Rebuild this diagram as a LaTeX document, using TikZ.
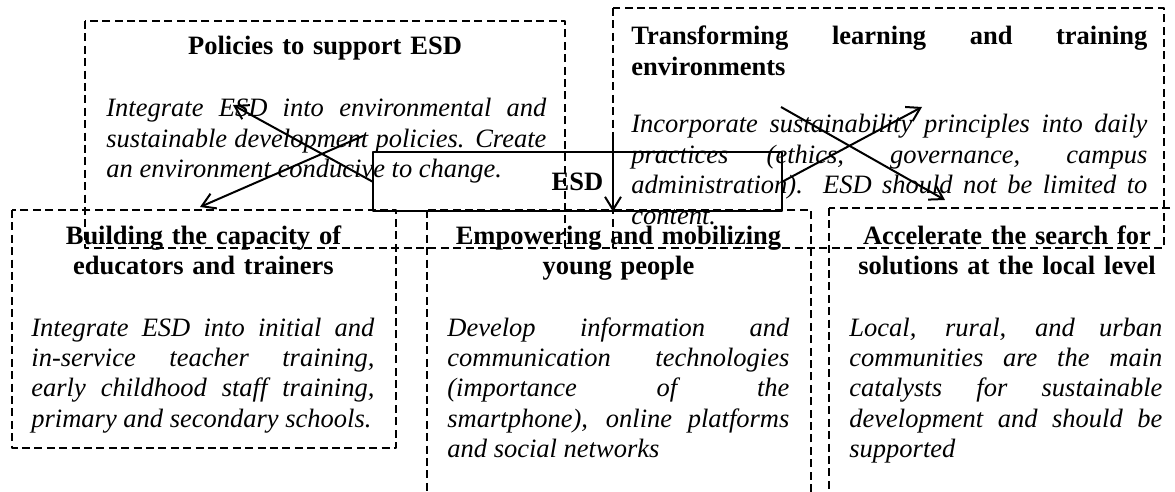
\documentclass[tikz,border=0pt]{standalone}
\usepackage{fontspec}
\setmainfont{Liberation Serif}
\usetikzlibrary{arrows.meta}
\tikzset{
  every picture/.style={line join=round, >={Straight Barb[length=6.5pt,width=8pt]}},
  box/.style={dash pattern=on 4pt off 2.2pt, line width=0.65pt},
  head/.style={font=\fontsize{13.25pt}{15.2pt}\selectfont\bfseries, inner sep=0pt, anchor=base, align=center, text width=172pt},
  body/.style={font=\fontsize{13.25pt}{15.2pt}\selectfont\itshape, inner sep=0pt, anchor=base west, align=justify},
}
% one full justified line
\newcommand{\jline}[1]{\makebox[\linewidth][s]{\spaceskip=0pt\xspaceskip=0pt #1}}
\begin{document}
\begin{tikzpicture}[x=0.5pt,y=-0.5pt]
\useasboundingbox (0,0) rectangle (1175,492);
\clip (0,0) rectangle (1175,492);
\draw[box] (85,21) rectangle (565,248);
\draw[box] (613,8) rectangle (1164,248);
\draw[box] (565,248) -- (613,248);
\draw[box] (12,210) rectangle (396,448);
\draw[box] (427,210) rectangle (811,500);
\draw[box] (829,208) rectangle (1185,500);

\node[head] (polHead) at (325,55) {Policies to support ESD};
\node[body, text width=220pt] (polText) at (106,117) {\jline{Integrate ESD into environmental and}\\
\jline{sustainable development policies. Create}\\
an environment conducive to change.};

\node[head, anchor=base west, align=justify, text width=258pt] (trfHead) at (631,45) {\jline{Transforming learning and training}\\
environments};
\node[body, text width=258pt] (trfText) at (631,133) {\jline{Incorporate sustainability principles into daily}\\
\jline{practices (ethics, governance, campus}\\
\jline{administration). ESD should not be limited to}\\
content.};

\node[head] (bldHead) at (203.5,244.4) {Building the capacity of\\educators and trainers};
\node[body, text width=171.5pt] (bldText) at (31,336) {\jline{Integrate ESD into initial and}\\
\jline{in-service teacher training,}\\
\jline{early childhood staff training,}\\
primary and secondary schools.};

\node[head] (empHead) at (618.5,244.4) {Empowering and mobilizing\\young people};
\node[body, text width=171pt] (empText) at (447,336) {\jline{Develop information and}\\
\jline{communication technologies}\\
\jline{(importance of the}\\
\jline{smartphone), online platforms}\\
and social networks};

\node[head] (accHead) at (1007,244.4) {Accelerate the search for\\solutions at the local level};
\node[body, text width=156.5pt] (accText) at (849,336) {\jline{Local, rural, and urban}\\
\jline{communities are the main}\\
\jline{catalysts for sustainable}\\
\jline{development and should be}\\
supported};

\node[draw, line width=0.7pt, minimum width=204.5pt, minimum height=29.5pt, inner sep=0pt, font=\fontsize{13.25pt}{15.2pt}\selectfont\bfseries] (esd) at (577.5,181.5) {ESD};

\coordinate (polTip) at (233,105);
\coordinate (bldFrom) at (363,136);
\coordinate (bldTip) at (200,207);
\coordinate (trfTip) at (922,107);
\coordinate (accFrom) at (781,107);
\coordinate (accTip) at (945,200);
\coordinate (empFrom) at (613,137);
\draw[->, line width=1pt] (esd.west) -- (polTip);
\draw[->, line width=1pt] (bldFrom) -- (bldTip);
\draw[->, line width=1pt] (esd.east) -- (trfTip);
\draw[->, line width=1pt] (accFrom) -- (accTip);
\draw[->, line width=1pt] (empFrom) -- (empFrom |- esd.south);
\end{tikzpicture}
\end{document}
